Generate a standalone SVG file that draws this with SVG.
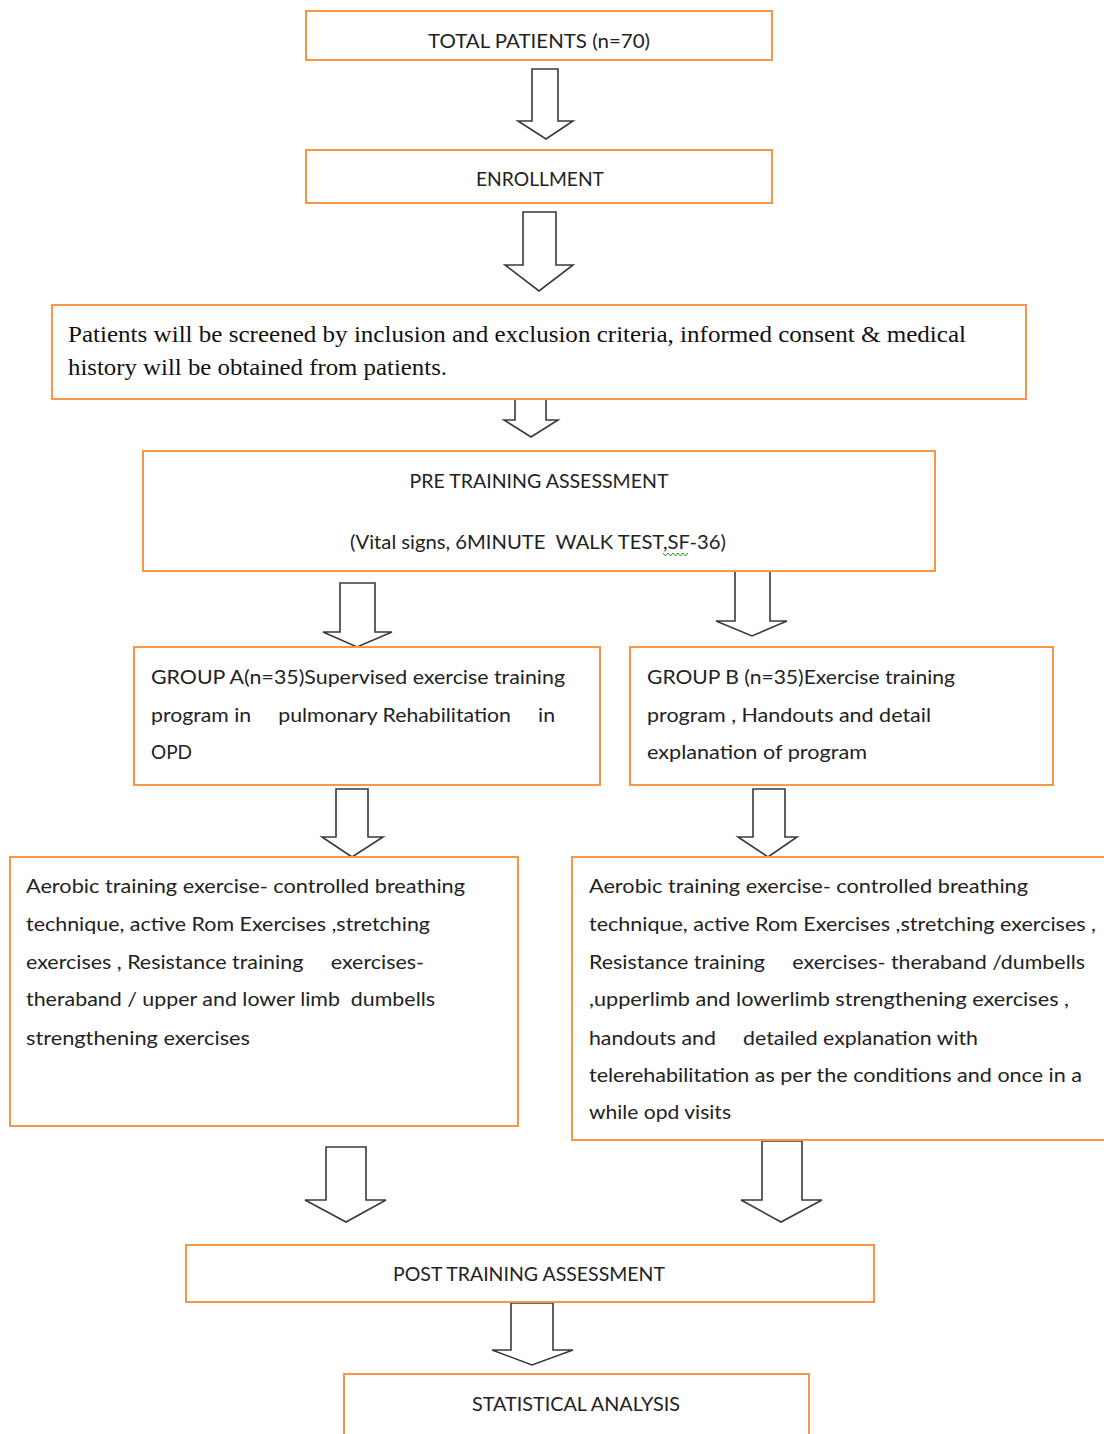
<svg xmlns="http://www.w3.org/2000/svg" width="1104" height="1434" viewBox="0 0 1104 1434">
<style>
.box{fill:#fff;stroke:#F79646;stroke-width:2}
.arr{fill:#fff;stroke:#3a3a3a;stroke-width:1.6;stroke-linejoin:miter}
.t{font-family:Lato,"Open Sans","Liberation Sans",sans-serif;font-size:20px;fill:#222}
.c{text-anchor:middle}
.s{font-family:"Liberation Serif","Times New Roman",serif;font-size:24px;fill:#111}
</style>
<rect width="1104" height="1434" fill="#fff"/>
<g id="connectors">
<polygon class="arr" points="532,69 558,69 558,121 573,121 546,139 518,121 532,121"/>
<polygon class="arr" points="523,212 556,212 556,265 573,265 539,291 505,265 523,265"/>
<polygon class="arr" points="515,397 546,397 546,420 558,420 531,437 504,420 515,420"/>
<polygon class="arr" points="340,583 375,583 375,632 392,632 357,647 323,632 340,632"/>
<polygon class="arr" points="735,571 770,571 770,621 787,621 752,636 716,621 735,621"/>
<polygon class="arr" points="336,789 368,789 368,837 383,837 352,857 322,837 336,837"/>
<polygon class="arr" points="753,789 785,789 785,837 797,837 768,857 738,837 753,837"/>
<polygon class="arr" points="326,1147 366,1147 366,1200 386,1200 346,1222 305,1200 326,1200"/>
<polygon class="arr" points="762,1141 802,1141 802,1200 822,1200 781,1222 741,1200 762,1200"/>
<polygon class="arr" points="511,1303 553,1303 553,1350 573,1350 532,1365 492,1350 511,1350"/>
</g>
<g id="total">
<rect class="box" x="306" y="11" width="466" height="49"/>
<text class="t c" x="539" y="48" textLength="222" lengthAdjust="spacingAndGlyphs">TOTAL PATIENTS (n=70)</text>
</g>
<g id="enrollment">
<rect class="box" x="306" y="150" width="466" height="53"/>
<text class="t c" x="540" y="186" textLength="128" lengthAdjust="spacingAndGlyphs">ENROLLMENT</text>
</g>
<g id="screening">
<rect class="box" x="52" y="305" width="974" height="94"/>
<text class="s" x="68" y="342" textLength="898" lengthAdjust="spacingAndGlyphs">Patients will be screened by inclusion and exclusion criteria, informed consent &amp; medical</text>
<text class="s" x="68" y="375" textLength="379" lengthAdjust="spacingAndGlyphs">history will be obtained from patients.</text>
</g>
<g id="pre">
<rect class="box" x="143" y="451" width="792" height="120"/>
<text class="t c" x="539" y="488" textLength="259" lengthAdjust="spacingAndGlyphs">PRE TRAINING ASSESSMENT</text>
<text class="t" x="350" y="549" textLength="376" lengthAdjust="spacingAndGlyphs" xml:space="preserve">(Vital signs, 6MINUTE  WALK TEST,SF-36)</text>
<path d="M663,553 l2.5,3 l2.5,-3 l2.5,3 l2.5,-3 l2.5,3 l2.5,-3 l2.5,3 l2.5,-3 l2.5,3 l2.5,-3" fill="none" stroke="#2a9d2a" stroke-width="1"/>
</g>
<g id="groupA">
<rect class="box" x="134" y="647" width="466" height="138"/>
<text class="t" x="151" y="684" textLength="414" lengthAdjust="spacingAndGlyphs">GROUP A(n=35)Supervised exercise training</text>
<text class="t" x="151" y="722" textLength="404" lengthAdjust="spacingAndGlyphs" xml:space="preserve">program in     pulmonary Rehabilitation     in</text>
<text class="t" x="151" y="759" textLength="41" lengthAdjust="spacingAndGlyphs">OPD</text>
</g>
<g id="groupB">
<rect class="box" x="630" y="647" width="423" height="138"/>
<text class="t" x="647" y="684" textLength="308" lengthAdjust="spacingAndGlyphs">GROUP B (n=35)Exercise training</text>
<text class="t" x="647" y="722" textLength="284" lengthAdjust="spacingAndGlyphs">program , Handouts and detail</text>
<text class="t" x="647" y="759" textLength="220" lengthAdjust="spacingAndGlyphs">explanation of program</text>
</g>
<g id="exerciseA">
<rect class="box" x="10" y="857" width="508" height="269"/>
<text class="t" x="26" y="893" textLength="439" lengthAdjust="spacingAndGlyphs">Aerobic training exercise- controlled breathing</text>
<text class="t" x="26" y="931" textLength="404" lengthAdjust="spacingAndGlyphs">technique, active Rom Exercises ,stretching</text>
<text class="t" x="26" y="969" textLength="398" lengthAdjust="spacingAndGlyphs" xml:space="preserve">exercises , Resistance training     exercises-</text>
<text class="t" x="26" y="1006" textLength="409" lengthAdjust="spacingAndGlyphs" xml:space="preserve">theraband / upper and lower limb  dumbells</text>
<text class="t" x="26" y="1045" textLength="224" lengthAdjust="spacingAndGlyphs">strengthening exercises</text>
</g>
<g id="exerciseB">
<rect class="box" x="572" y="857" width="540" height="283"/>
<text class="t" x="589" y="893" textLength="439" lengthAdjust="spacingAndGlyphs">Aerobic training exercise- controlled breathing</text>
<text class="t" x="589" y="931" textLength="507" lengthAdjust="spacingAndGlyphs">technique, active Rom Exercises ,stretching exercises ,</text>
<text class="t" x="589" y="969" textLength="496" lengthAdjust="spacingAndGlyphs" xml:space="preserve">Resistance training     exercises- theraband /dumbells</text>
<text class="t" x="589" y="1006" textLength="480" lengthAdjust="spacingAndGlyphs">,upperlimb and lowerlimb strengthening exercises ,</text>
<text class="t" x="589" y="1045" textLength="389" lengthAdjust="spacingAndGlyphs" xml:space="preserve">handouts and     detailed explanation with</text>
<text class="t" x="589" y="1082" textLength="493" lengthAdjust="spacingAndGlyphs">telerehabilitation as per the conditions and once in a</text>
<text class="t" x="589" y="1119" textLength="142" lengthAdjust="spacingAndGlyphs">while opd visits</text>
</g>
<g id="post">
<rect class="box" x="186" y="1245" width="688" height="57"/>
<text class="t c" x="529" y="1281" textLength="272" lengthAdjust="spacingAndGlyphs">POST TRAINING ASSESSMENT</text>
</g>
<g id="stats">
<rect class="box" x="344" y="1374" width="465" height="80"/>
<text class="t c" x="576" y="1411" textLength="208" lengthAdjust="spacingAndGlyphs">STATISTICAL ANALYSIS</text>
</g>
</svg>
